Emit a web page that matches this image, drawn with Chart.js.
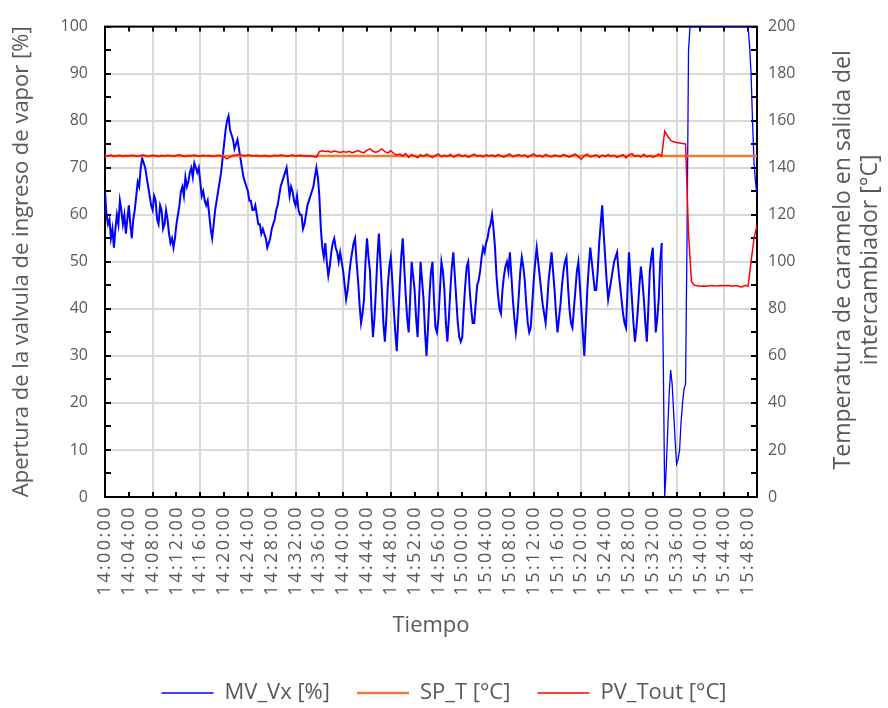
<!DOCTYPE html>
<html><head><meta charset="utf-8">
<script src="https://cdn.jsdelivr.net/npm/chart.js@4.4.1/dist/chart.umd.min.js"></script>
<style>html,body{margin:0;padding:0;background:#fff;}canvas{display:block;}</style>
</head><body>
<canvas id="c" width="888" height="708"></canvas>
<script>
// ---------- data ----------
const MV_STEP_MIN = 0.25;      // MV sample spacing, minutes after 14:00:00
const PV_STEP_MIN = 0.5;       // PV sample spacing, minutes after 14:00:00
const X_MAX_MIN = 109.5;
const timeLabels = ['14:00:00','14:04:00','14:08:00','14:12:00','14:16:00','14:20:00','14:24:00',
  '14:28:00','14:32:00','14:36:00','14:40:00','14:44:00','14:48:00','14:52:00','14:56:00',
  '15:00:00','15:04:00','15:08:00','15:12:00','15:16:00','15:20:00','15:24:00','15:28:00',
  '15:32:00','15:36:00','15:40:00','15:44:00','15:48:00'];
const seriesNames = ['MV_Vx [%]', 'SP_T [°C]', 'PV_Tout [°C]'];
const leftTicks = [0,10,20,30,40,50,60,70,80,90,100];
const rightTicks = [0,20,40,60,80,100,120,140,160,180,200];

// MV_Vx [%] : one value every 0.25 min from 14:00:00 (each row = 5 min)
const mvValues = [
  65,60,58,59,55,57,53,57,60,58,63,61,58,60,56,59,62,58,55,59,
  61,64,67,66,70,72,71,70,68,66,64,62,61,64,63,59,58,62,61,57,
  58,61,59,56,54,55,53,55,58,60,62,65,66,64,68,66,67,69,70,68,
  71,70,69,70,67,64,65,63,62,63,60,57,55,58,61,63,65,67,69,72,
  75,78,80,81,78,77,76,74,75,76,74,72,70,68,67,66,65,63,63,61,
  61,62,60,58,58,56,57,56,55,53,54,55,57,58,59,61,62,64,66,67,
  68,69,70,67,64,66,65,63,62,64,61,60,60,57,58,60,62,63,64,65,
  66,68,70,68,64,57,53,51,54,50,47,49,52,54,55,53,52,50,52,50,
  48,45,42,44,47,50,52,54,55,50,46,41,37,39,42,50,55,51,48,40,
  34,38,44,51,56,50,44,37,33,38,45,49,51,46,40,35,31,38,45,51,
  55,49,43,38,35,42,50,47,44,38,34,42,50,46,42,35,30,36,43,48,
  50,42,36,35,38,44,50,48,44,37,33,38,44,49,52,47,42,37,34,33,
  34,40,45,49,50,44,40,37,37,41,45,46,48,51,53,52,54,55,57,58,
  60,57,53,47,43,40,39,44,47,49,50,48,52,47,42,38,35,38,43,48,
  51,49,46,41,37,35,36,41,46,50,53,50,47,44,41,39,37,41,46,49,
  52,48,44,39,35,38,41,45,48,50,51,45,40,37,36,40,44,48,50,45,
  40,35,30,37,44,49,53,50,47,44,44,48,54,58,62,56,51,46,42,44,
  46,48,50,51,52,48,45,42,39,37,36,44,52,47,42,37,33,36,40,45,
  49,46,42,37,33,40,48,51,53,44,35,38,42,50,54,30,0,6,14,22,
  27,24,18,12,7,8,10,16,20,23,24,55,95,100,100,100,100,100,100,100,
  100,100,100,100,100,100,100,100,100,100,100,100,100,100,100,100,100,100,100,100,
  100,100,100,100,100,100,100,100,100,100,100,100,100,96,90,80,71,67,64
];
// PV_Tout [°C] : one value every 0.5 min from 14:00:00 (each row = 5 min)
const pvValues = [
  145.2,145.0,145.4,144.8,145.1,145.3,144.9,145.2,145.0,145.3,
  145.1,144.8,145.2,145.4,145.0,144.9,145.3,145.1,144.8,145.2,
  145.0,145.3,145.1,144.9,145.2,145.5,145.0,144.8,145.2,145.1,
  145.4,145.0,144.9,145.3,145.1,145.2,144.9,145.0,145.3,145.1,
  144.6,143.8,144.5,145.2,145.4,145.6,145.3,145.1,145.4,145.2,
  145.0,145.3,144.9,145.1,145.2,144.8,145.0,145.3,145.1,145.4,
  145.2,144.9,145.1,145.4,145.0,145.2,145.3,144.9,145.1,145.0,
  144.8,144.5,146.8,147.2,146.9,147.0,146.6,147.1,146.8,146.5,
  146.9,146.6,147.0,146.4,146.8,147.3,146.7,146.4,147.5,148.0,
  147.0,146.5,147.2,148.0,146.8,146.3,147.2,146.0,145.4,145.8,
  145.0,146.0,144.4,145.6,145.0,144.2,145.5,144.8,145.8,145.0,
  144.3,145.2,145.9,144.6,145.3,144.8,145.6,144.5,145.2,145.7,
  144.8,145.4,144.4,145.1,145.8,144.9,145.3,144.6,145.5,145.0,
  145.4,144.7,145.6,145.0,144.5,145.3,145.8,144.6,145.2,145.6,
  144.9,145.5,144.4,145.2,145.9,144.8,145.3,144.5,145.7,145.0,
  144.6,145.4,145.0,144.7,145.6,145.1,144.5,145.3,145.8,144.6,
  143.6,145.2,145.8,144.6,145.0,145.5,144.3,145.4,144.8,145.6,
  144.9,145.3,144.4,145.0,145.6,144.2,145.5,146.0,144.8,145.3,
  144.5,145.7,144.6,145.2,144.4,145.0,145.8,145.0,155.5,153.5,
  151.6,151.0,150.7,150.5,150.3,150.1,112.0,91.5,90.0,89.8,
  89.6,89.7,89.6,89.8,89.9,89.7,89.8,89.9,89.8,89.9,
  89.8,89.6,89.9,89.5,89.3,90.0,89.6,100.0,110.0,115.5
];
// SP_T [°C] : constant set point
const spTimes = [0, 109.5];
const spValues = [145, 145];
// end of the noisy (oscillating) part of MV, minutes
const MV_NOISY_END_MIN = 93.5;

// ---------- styling ----------
const FONT = "'Open Sans', sans-serif";
const TXT = '#595959';
const GRID = '#d9d9d9';

const toPoints = (vals, step) => vals.map((v, i) => ({x: i * step, y: v}));

const frameAndTitles = {
  id: 'frameAndTitles',
  beforeDatasetsDraw(chart) {
    const {ctx, chartArea: a, scales} = chart;
    ctx.save();
    ctx.strokeStyle = '#000';
    ctx.lineWidth = 2;
    ctx.beginPath();
    scales.x.ticks.forEach(t => {
      const px = Math.round(scales.x.getPixelForValue(t.value));
      ctx.moveTo(px, a.top); ctx.lineTo(px, a.top + 5);
      ctx.moveTo(px, a.bottom); ctx.lineTo(px, a.bottom - 5);
    });
    const ly = scales.y.ticks.map(t => t.value);
    for (let i = 0; i < ly.length; i++) {
      const vals = [ly[i]];
      if (i < ly.length - 1) vals.push((ly[i] + ly[i + 1]) / 2);
      vals.forEach(v => { const py = Math.round(scales.y.getPixelForValue(v)); ctx.moveTo(a.left, py); ctx.lineTo(a.left + 6, py); });
    }
    const ry = scales.y2.ticks.map(t => t.value);
    for (let i = 0; i < ry.length; i++) {
      const vals = [ry[i]];
      if (i < ry.length - 1) vals.push((ry[i] + ry[i + 1]) / 2);
      vals.forEach(v => { const py = Math.round(scales.y2.getPixelForValue(v)); ctx.moveTo(a.right, py); ctx.lineTo(a.right - 6, py); });
    }
    ctx.stroke();
    ctx.strokeRect(a.left, a.top, a.right - a.left, a.bottom - a.top);
    ctx.restore();
  },
  afterDraw(chart) {
    const {ctx, chartArea: a} = chart;
    const yc = (a.top + a.bottom) / 2 - 2;
    ctx.save();
    ctx.fillStyle = TXT;
    ctx.font = "23px " + FONT;
    ctx.textAlign = 'center';
    ctx.textBaseline = 'middle';
    [['Temperatura de caramelo en salida del', 843], ['intercambiador [°C]', 870]].forEach(([s, x]) => {
      ctx.save(); ctx.translate(x, yc); ctx.rotate(-Math.PI / 2); ctx.fillText(s, 0, 0); ctx.restore();
    });
    ctx.restore();
  }
};

new Chart(document.getElementById('c'), {
  type: 'line',
  data: {
    datasets: [
      {label: seriesNames[0], data: toPoints(mvValues, MV_STEP_MIN), yAxisID: 'y', borderColor: '#0000ff', backgroundColor: '#0000ff',
       borderWidth: 1.5, pointRadius: 0, tension: 0, order: 3,
       segment: {borderWidth: c => (c.p1.parsed.x <= MV_NOISY_END_MIN ? 2 : 1.3)}},
      {label: seriesNames[1], data: spTimes.map((t, i) => ({x: t, y: spValues[i]})), yAxisID: 'y2', borderColor: '#ed7d31', backgroundColor: '#ed7d31',
       borderWidth: 2.5, pointRadius: 0, order: 2},
      {label: seriesNames[2], data: toPoints(pvValues, PV_STEP_MIN), yAxisID: 'y2', borderColor: '#ff0000', backgroundColor: '#ff0000',
       borderWidth: 1.5, pointRadius: 0, tension: 0, order: 1}
    ]
  },
  options: {
    responsive: false,
    animation: false,
    devicePixelRatio: 1,
    layout: {padding: {top: 22, left: 0, right: 0, bottom: 0}},
    plugins: {
      tooltip: {enabled: false},
      legend: {
        position: 'bottom',
        maxHeight: 53,
        labels: {
          font: {family: FONT, size: 22}, color: TXT, boxWidth: 52, boxHeight: 0, padding: 27,
          sort: (a, b) => a.datasetIndex - b.datasetIndex
        }
      }
    },
    scales: {
      x: {
        type: 'linear', min: 0, max: X_MAX_MIN,
        border: {display: false},
        grid: {color: c => (c.tick && c.tick.value > 0 && c.tick.value % 8 === 0) ? GRID : 'rgba(0,0,0,0)', lineWidth: 2, drawTicks: false},
        ticks: {stepSize: 4, includeBounds: false, autoSkip: false, minRotation: 90, maxRotation: 90, padding: 8,
          color: TXT, font: {family: FONT, size: 18},
          callback: v => timeLabels[Math.round(v / 4)]},
        title: {display: true, text: 'Tiempo', color: TXT, font: {family: FONT, size: 22}, padding: {top: 0, bottom: 16}},
        afterFit(s) {
          s.height = 158;
          if (!s._lsPatched) {
            const orig = s.drawLabels.bind(s);
            s.drawLabels = function (area) { const c = this.ctx; const p = c.letterSpacing; c.letterSpacing = '2.4px'; orig(area); c.letterSpacing = p; };
            s._lsPatched = true;
          }
        }
      },
      y: {
        position: 'left', min: 0, max: 100,
        border: {display: false},
        grid: {color: GRID, lineWidth: 2, drawTicks: false},
        ticks: {stepSize: 10, padding: 17, color: TXT, font: {family: FONT, size: 16}, callback: (v, i) => String(leftTicks[i])},
        title: {display: true, text: 'Apertura de la valvula de ingreso de vapor [%]', color: TXT, font: {family: FONT, size: 22}, padding: {top: 9, bottom: 9}},
        afterFit(s) { s.width = 105; }
      },
      y2: {
        position: 'right', min: 0, max: 200,
        border: {display: false},
        grid: {display: false, drawTicks: false},
        ticks: {stepSize: 20, padding: 11, color: TXT, font: {family: FONT, size: 16}, callback: (v, i) => String(rightTicks[i])},
        afterFit(s) { s.width = 131; }
      }
    }
  },
  plugins: [frameAndTitles]
});
</script>
</body></html>
